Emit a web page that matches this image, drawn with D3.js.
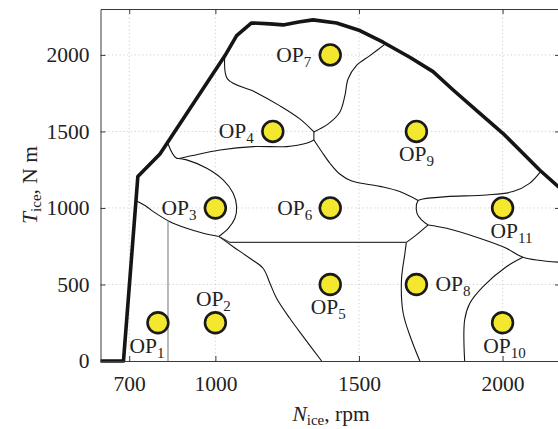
<!DOCTYPE html>
<html>
<head>
<meta charset="utf-8">
<script src="https://cdn.jsdelivr.net/npm/d3@7"></script>
<style>
  html, body { margin: 0; padding: 0; background: #fff; }
  svg { display: block; }
  text { font-family: "Liberation Serif", "DejaVu Serif", serif; fill: #222; }
</style>
</head>
<body>
<svg id="chart" width="558" height="429"></svg>
<script>
// Axis ticks
const rpmTicks = [700, 1000, 1500, 2000];
const torqueTicks = [0, 500, 1000, 1500, 2000];

// Operating points (engine speed in rpm, torque in N m)
const opNames  = ["OP1", "OP2", "OP3", "OP4", "OP5", "OP6", "OP7", "OP8", "OP9", "OP10", "OP11"];
const opSpeed  = [800, 1000, 1000, 1200, 1400, 1400, 1400, 1700, 1700, 2000, 2000];
const opTorque = [250, 250, 1000, 1500, 500, 1000, 2000, 500, 1500, 250, 1000];

// Full-load (maximum torque) curve of the engine: [rpm, N m]
const maxTorqueCurve = [
  [600, 0], [680, 0], [730, 1205], [807, 1353], [1033, 1994], [1074, 2126],
  [1126, 2209], [1190, 2203], [1236, 2196], [1290, 2215], [1340, 2229],
  [1422, 2209], [1503, 2159], [1584, 2083], [1677, 1985], [1758, 1891],
  [1828, 1771], [1920, 1619], [2001, 1488], [2083, 1335], [2129, 1248],
  [2200, 1130]
];

// Region boundaries between the operating points: [rpm, N m]
const boundaries = [
  [[1033, 1995], [1042, 1843], [1138, 1758], [1225, 1667], [1294, 1582], [1343, 1497]],
  [[1343, 1497], [1393, 1549], [1433, 1625], [1451, 1734], [1462, 1843], [1491, 1930], [1538, 1995], [1592, 2072]],
  [[1343, 1497], [1343, 1444]],
  [[835, 1420], [865, 1325], [900, 1335], [1016, 1379], [1132, 1401], [1248, 1401], [1317, 1423], [1343, 1444]],
  [[865, 1325], [900, 1314], [970, 1259], [1027, 1183], [1062, 1096], [1074, 1008], [1068, 933], [1045, 867], [1012, 814]],
  [[726, 1045], [761, 1008], [784, 976], [842, 910], [900, 867], [958, 835], [1012, 814]],
  [[1012, 814], [1062, 747], [1120, 671], [1166, 606], [1190, 508], [1213, 410], [1259, 279], [1306, 159], [1370, 0]],
  [[1343, 1444], [1371, 1366], [1399, 1292], [1433, 1222], [1475, 1176], [1573, 1141], [1642, 1107], [1706, 1049]],
  [[1706, 1049], [1723, 1059], [1805, 1074], [1944, 1085], [2036, 1107], [2094, 1161], [2133, 1239]],
  [[1706, 1049], [1700, 1020], [1702, 965], [1718, 922], [1741, 889]],
  [[1741, 889], [1805, 867], [1920, 802], [2013, 737], [2071, 678], [2200, 645]],
  [[1741, 889], [1700, 824], [1665, 775]],
  [[1665, 775], [1660, 704], [1648, 529], [1654, 312], [1683, 137], [1712, 0]],
  [[2071, 678], [2013, 616], [1932, 486], [1886, 377], [1868, 268], [1868, 0]]
];
// Straight separators
const horizontalSeparator = [[1012, 814], [1051, 775], [1665, 775]];
const verticalSeparator = [[835, 912], [835, 0]];

// ---- drawing ----
const svg = d3.select("#chart");
const x = d3.scaleLinear().domain([600, 2200]).range([100.5, 560]);
const y = d3.scaleLinear().domain([0, 2300]).range([361, 9]);
const [x0, x1] = x.range();
const [y0, y1] = y.range();
const fmt = d3.format("d");

// grid
const grid = svg.append("g").attr("stroke", "#c4c4c4").attr("stroke-width", 0.8)
  .attr("stroke-dasharray", "1.2,2.6");
grid.selectAll("line.vx").data(rpmTicks).join("line")
  .attr("x1", d => x(d)).attr("x2", d => x(d)).attr("y1", y0).attr("y2", y1);
grid.selectAll("line.hy").data(torqueTicks.filter(d => d > 0)).join("line")
  .attr("x1", x0).attr("x2", x1).attr("y1", d => y(d)).attr("y2", d => y(d));

// boundaries
const thin = d3.line().x(d => x(d[0])).y(d => y(d[1])).curve(d3.curveCatmullRom.alpha(0.5));
const straight = d3.line().x(d => x(d[0])).y(d => y(d[1]));
const gB = svg.append("g").attr("fill", "none");
gB.selectAll("path.b").data(boundaries).join("path")
  .attr("d", thin).attr("stroke", "#151515").attr("stroke-width", 1.1);
gB.append("path").attr("d", straight(horizontalSeparator))
  .attr("stroke", "#3a3a3a").attr("stroke-width", 1.1);
gB.append("path").attr("d", straight(verticalSeparator))
  .attr("stroke", "#808080").attr("stroke-width", 1.1);

// full-load curve
svg.append("path").attr("d", straight(maxTorqueCurve))
  .attr("fill", "none").attr("stroke", "#151515").attr("stroke-width", 3.6)
  .attr("stroke-linejoin", "round");

// axes (ticks pointing inward, mirrored on top and right)
function styleAxis(g) {
  g.attr("font-family", null);
  g.select(".domain").attr("stroke", "#3a3a3a");
  g.selectAll(".tick line").attr("stroke", "#3a3a3a");
  g.selectAll(".tick text").attr("font-size", "21.5px").attr("fill", "#222");
}
svg.append("g").attr("transform", `translate(0,${y0})`)
  .call(d3.axisBottom(x).tickValues(rpmTicks).tickFormat(fmt).tickSize(-5).tickSizeOuter(0).tickPadding(15))
  .call(styleAxis);
svg.append("g").attr("transform", `translate(0,${y1})`)
  .call(d3.axisTop(x).tickValues(rpmTicks).tickSize(-5).tickSizeOuter(0).tickFormat(""))
  .call(styleAxis);
svg.append("g").attr("transform", `translate(${x0},0)`)
  .call(d3.axisLeft(y).tickValues(torqueTicks).tickFormat(fmt).tickSize(-5).tickSizeOuter(0).tickPadding(11))
  .call(styleAxis);
svg.append("g").attr("transform", `translate(${x1},0)`)
  .call(d3.axisRight(y).tickValues(torqueTicks).tickSize(-5).tickSizeOuter(0).tickFormat(""))
  .call(styleAxis);

// operating points
const ops = opNames.map((n, i) => ({ name: n, rpm: opSpeed[i], tq: opTorque[i] }));
svg.append("g").selectAll("circle").data(ops).join("circle")
  .attr("cx", d => x(d.rpm)).attr("cy", d => y(d.tq)).attr("r", 10.4)
  .attr("fill", "#f4e82f").attr("stroke", "#1a1a1a").attr("stroke-width", 2.6);

// label placement relative to each point: [dx, dy, anchor]
const labelPlacement = {
  OP1: [-11, 30, "middle"], OP2: [-2, -17, "middle"], OP3: [-19, 7, "end"],
  OP4: [-19, 7, "end"], OP5: [-2, 30, "middle"], OP6: [-18, 7, "end"],
  OP7: [-19, 7, "end"], OP8: [19, 7, "start"], OP9: [0, 30, "middle"],
  OP10: [2, 30, "middle"], OP11: [9, 30, "middle"]
};
const labels = svg.append("g").selectAll("text").data(ops).join("text")
  .attr("x", d => x(d.rpm) + labelPlacement[d.name][0])
  .attr("y", d => y(d.tq) + labelPlacement[d.name][1])
  .attr("text-anchor", d => labelPlacement[d.name][2])
  .attr("font-size", "21.5px");
labels.append("tspan").text("OP");
labels.append("tspan").attr("font-size", "15px").attr("dy", 5).text(d => d.name.slice(2));

// axis titles
const xt = svg.append("text").attr("x", 331).attr("y", 421).attr("text-anchor", "middle")
  .attr("font-size", "21.5px");
xt.append("tspan").attr("font-style", "italic").text("N");
xt.append("tspan").attr("font-size", "15px").attr("dy", 4).text("ice");
xt.append("tspan").attr("dy", -4).text(", rpm");

const yt = svg.append("text").attr("transform", "translate(37,185) rotate(-90)")
  .attr("text-anchor", "middle").attr("font-size", "21.5px");
yt.append("tspan").attr("font-style", "italic").text("T");
yt.append("tspan").attr("font-size", "15px").attr("dy", 4).text("ice");
yt.append("tspan").attr("dy", -4).text(", N m");
</script>
</body>
</html>
